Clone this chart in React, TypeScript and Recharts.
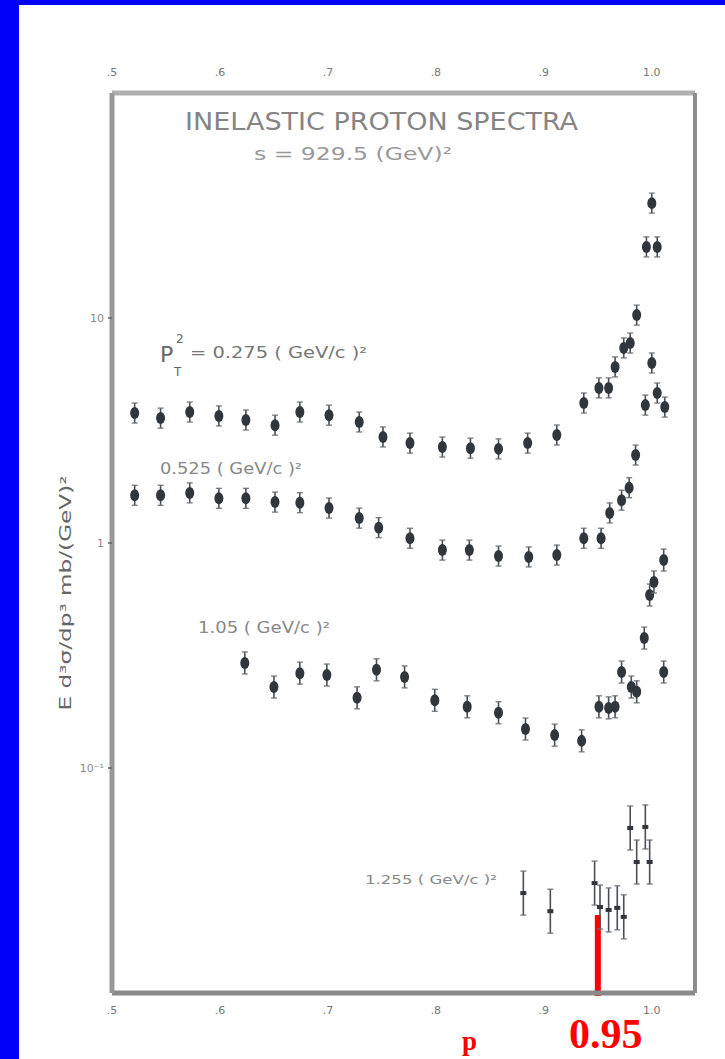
import { ScatterChart, Scatter, XAxis, YAxis, ReferenceLine } from "recharts";

// x (Feynman x) tick values and their scanned labels
const xTicks = [0.5, 0.6, 0.7, 0.8, 0.9, 1.0];
const xTickLabels = [".5", ".6", ".7", ".8", ".9", "1.0"];
const yTicks = [0.1, 1, 10];
const yTickLabels = ["10⁻¹", "1", "10"];

// P_T^2 = 0.275 (GeV/c)^2
const pt275X = [0.521, 0.545, 0.572, 0.599, 0.624, 0.651, 0.674, 0.701, 0.729, 0.751, 0.776, 0.806, 0.832, 0.858, 0.885, 0.912, 0.937, 0.951, 0.96, 0.966, 0.974, 0.98, 0.986, 0.995, 1.005, 1.0, 0.994, 1.0, 1.005, 1.012];
const pt275Y = [3.78, 3.59, 3.82, 3.67, 3.52, 3.34, 3.82, 3.7, 3.45, 2.96, 2.78, 2.67, 2.64, 2.62, 2.78, 3.02, 4.19, 4.89, 4.89, 6.06, 7.36, 7.74, 10.3, 20.7, 20.7, 32.4, 4.1, 6.31, 4.64, 4.02];

// 0.525 (GeV/c)^2
const pt525X = [0.521, 0.545, 0.572, 0.599, 0.624, 0.651, 0.674, 0.701, 0.729, 0.747, 0.776, 0.806, 0.831, 0.858, 0.886, 0.912, 0.937, 0.953, 0.961, 0.972, 0.979, 0.985];
const pt525Y = [1.63, 1.63, 1.67, 1.58, 1.58, 1.52, 1.51, 1.43, 1.29, 1.17, 1.05, 0.93, 0.93, 0.875, 0.867, 0.884, 1.05, 1.05, 1.36, 1.55, 1.76, 2.46];

// 1.05 (GeV/c)^2
const pt105X = [0.623, 0.65, 0.674, 0.699, 0.727, 0.745, 0.771, 0.799, 0.829, 0.858, 0.883, 0.91, 0.935, 0.951, 0.96, 0.966, 0.972, 0.981, 0.986, 0.993, 0.998, 1.002, 1.011, 1.011];
const pt105Y = [0.293, 0.229, 0.264, 0.259, 0.205, 0.273, 0.254, 0.2, 0.187, 0.176, 0.149, 0.14, 0.132, 0.187, 0.185, 0.187, 0.267, 0.229, 0.218, 0.378, 0.587, 0.671, 0.84, 0.267];

// 1.255 (GeV/c)^2
const pt1255X = [0.881, 0.906, 0.947, 0.952, 0.96, 0.968, 0.974, 0.98, 0.994, 0.986, 0.998];
const pt1255Y = [0.0278, 0.0231, 0.0308, 0.0241, 0.0234, 0.0239, 0.0218, 0.0541, 0.0547, 0.0382, 0.0382];

const toPoints = (xs: number[], ys: number[]) => xs.map((x, i) => ({ x, y: ys[i] }));

const INK = "#30363c";
const AXIS_FONT = "DejaVu Sans, sans-serif";
const LABEL_FONT = "DejaVu Sans Condensed, DejaVu Sans, sans-serif";

function ErrPoint(props: any) {
  const { cx, cy, half = 10, box = false } = props;
  if (cx == null || cy == null) return null;
  return (
    <g>
      <line x1={cx} x2={cx} y1={cy - half} y2={cy + half} stroke="#4a4f55" strokeWidth={1.6} />
      <line x1={cx - 3} x2={cx + 3} y1={cy - half} y2={cy - half} stroke="#6a6f75" strokeWidth={1.2} />
      <line x1={cx - 3} x2={cx + 3} y1={cy + half} y2={cy + half} stroke="#6a6f75" strokeWidth={1.2} />
      {box ? (
        <rect x={cx - 3} y={cy - 2} width={6} height={4} fill={INK} />
      ) : (
        <ellipse cx={cx} cy={cy} rx={4.5} ry={6} fill={INK} />
      )}
    </g>
  );
}

function XTick(props: any) {
  const { x, y, payload, top } = props;
  const i = xTicks.indexOf(payload.value);
  const label = i >= 0 ? xTickLabels[i] : "";
  return (
    <text
      x={x}
      y={top ? y - 9 : y + 13}
      textAnchor="middle"
      fontSize={11}
      fill="#777"
      fontFamily={AXIS_FONT}
    >
      {label}
    </text>
  );
}

function YTick(props: any) {
  const { x, y, payload } = props;
  const i = yTicks.indexOf(payload.value);
  const label = i >= 0 ? yTickLabels[i] : "";
  return (
    <text x={x} y={y + 4} textAnchor="end" fontSize={11} fill="#888" fontFamily={AXIS_FONT}>
      {label}
    </text>
  );
}

export default function App() {
  return (
    <div
      style={{
        position: "fixed",
        left: 0,
        top: 0,
        width: 725,
        height: 1059,
        background: "#fff",
        overflow: "hidden",
      }}
    >
      <div style={{ position: "absolute", left: 0, top: 0, width: 19, height: 1059, background: "#0000f8" }} />
      <div style={{ position: "absolute", left: 0, top: 0, width: 725, height: 5, background: "#0000f8" }} />

      <div style={{ position: "absolute", left: 0, top: 0 }}>
        <ScatterChart width={725} height={1059} margin={{ top: 68, right: 29, bottom: 36, left: 62 }}>
          <XAxis
            xAxisId="bottom"
            dataKey="x"
            type="number"
            domain={[0.5, 1.04]}
            ticks={xTicks}
            allowDataOverflow
            height={30}
            tickLine={false}
            axisLine={{ stroke: "#8a8a8a", strokeWidth: 5 }}
            tick={<XTick />}
          />
          <XAxis
            xAxisId="top"
            orientation="top"
            dataKey="x"
            type="number"
            domain={[0.5, 1.04]}
            ticks={xTicks}
            allowDataOverflow
            height={25}
            tickLine={false}
            axisLine={{ stroke: "#b0b0b0", strokeWidth: 5 }}
            tick={<XTick top />}
          />
          <YAxis
            yAxisId="left"
            dataKey="y"
            type="number"
            scale="log"
            domain={[0.01, 100]}
            ticks={yTicks}
            allowDataOverflow
            width={50}
            tickLine={{ stroke: "#666", strokeWidth: 1.5 }}
            tickSize={4}
            tickMargin={4}
            axisLine={{ stroke: "#999", strokeWidth: 5 }}
            tick={<YTick />}
          />
          <YAxis
            yAxisId="right"
            orientation="right"
            dataKey="y"
            type="number"
            scale="log"
            domain={[0.01, 100]}
            allowDataOverflow
            width={1}
            tick={false}
            tickLine={false}
            axisLine={{ stroke: "#8c8c8c", strokeWidth: 4 }}
          />

          <Scatter
            xAxisId="bottom"
            yAxisId="left"
            data={toPoints(pt275X, pt275Y)}
            isAnimationActive={false}
            shape={(p: any) => <ErrPoint {...p} half={10} />}
          />
          <Scatter
            xAxisId="bottom"
            yAxisId="left"
            data={toPoints(pt525X, pt525Y)}
            isAnimationActive={false}
            shape={(p: any) => <ErrPoint {...p} half={10} />}
          />
          <Scatter
            xAxisId="bottom"
            yAxisId="left"
            data={toPoints(pt105X, pt105Y)}
            isAnimationActive={false}
            shape={(p: any) => <ErrPoint {...p} half={11} />}
          />
          <Scatter
            xAxisId="bottom"
            yAxisId="left"
            data={toPoints(pt1255X, pt1255Y)}
            isAnimationActive={false}
            shape={(p: any) => <ErrPoint {...p} half={22} box />}
          />

          <ReferenceLine
            xAxisId="bottom"
            yAxisId="left"
            segment={[
              { x: 0.95, y: 0.0222 },
              { x: 0.95, y: 0.0097 },
            ]}
            stroke="#ff0000"
            strokeWidth={6}
            ifOverflow="visible"
          />
        </ScatterChart>
      </div>

      <svg
        width={725}
        height={1059}
        style={{ position: "absolute", left: 0, top: 0, pointerEvents: "none" }}
      >
        <text
          x={185}
          y={130}
          fontSize={25}
          fill="#858585"
          fontFamily={LABEL_FONT}
          textLength={393}
          lengthAdjust="spacingAndGlyphs"
        >
          INELASTIC PROTON SPECTRA
        </text>
        <text
          x={254}
          y={160}
          fontSize={17}
          fill="#999"
          fontFamily={LABEL_FONT}
          textLength={198}
          lengthAdjust="spacingAndGlyphs"
        >
          s = 929.5 (GeV)²
        </text>

        <text x={160} y={362} fontSize={22} fill="#666" fontFamily={AXIS_FONT}>
          P
        </text>
        <text x={176} y={343} fontSize={12} fill="#666" fontFamily={AXIS_FONT}>
          2
        </text>
        <text x={174} y={376} fontSize={12} fill="#666" fontFamily={AXIS_FONT}>
          T
        </text>
        <text
          x={190}
          y={358}
          fontSize={15}
          fill="#777"
          fontFamily={LABEL_FONT}
          textLength={177}
          lengthAdjust="spacingAndGlyphs"
        >
          = 0.275 ( GeV/c )²
        </text>
        <text
          x={160}
          y={474}
          fontSize={15}
          fill="#888"
          fontFamily={LABEL_FONT}
          textLength={142}
          lengthAdjust="spacingAndGlyphs"
        >
          0.525 ( GeV/c )²
        </text>
        <text
          x={198}
          y={633}
          fontSize={15}
          fill="#888"
          fontFamily={LABEL_FONT}
          textLength={132}
          lengthAdjust="spacingAndGlyphs"
        >
          1.05 ( GeV/c )²
        </text>
        <text
          x={365}
          y={884}
          fontSize={13}
          fill="#888"
          fontFamily={LABEL_FONT}
          textLength={132}
          lengthAdjust="spacingAndGlyphs"
        >
          1.255 ( GeV/c )²
        </text>

        <text
          transform="translate(71 593) rotate(-90)"
          textAnchor="middle"
          fontSize={16}
          fill="#666"
          fontFamily={AXIS_FONT}
          textLength={235}
          lengthAdjust="spacingAndGlyphs"
        >
          E d³σ/dp³  mb/(GeV)²
        </text>

        <text
          x={569}
          y={1048}
          fontSize={42}
          fontWeight="bold"
          fill="#ff0000"
          fontFamily="Liberation Serif, serif"
        >
          0.95
        </text>
        <text
          x={462}
          y={1050}
          fontSize={27}
          fontWeight="bold"
          fill="#ff0000"
          fontFamily="Liberation Serif, serif"
        >
          p
        </text>
      </svg>
    </div>
  );
}
